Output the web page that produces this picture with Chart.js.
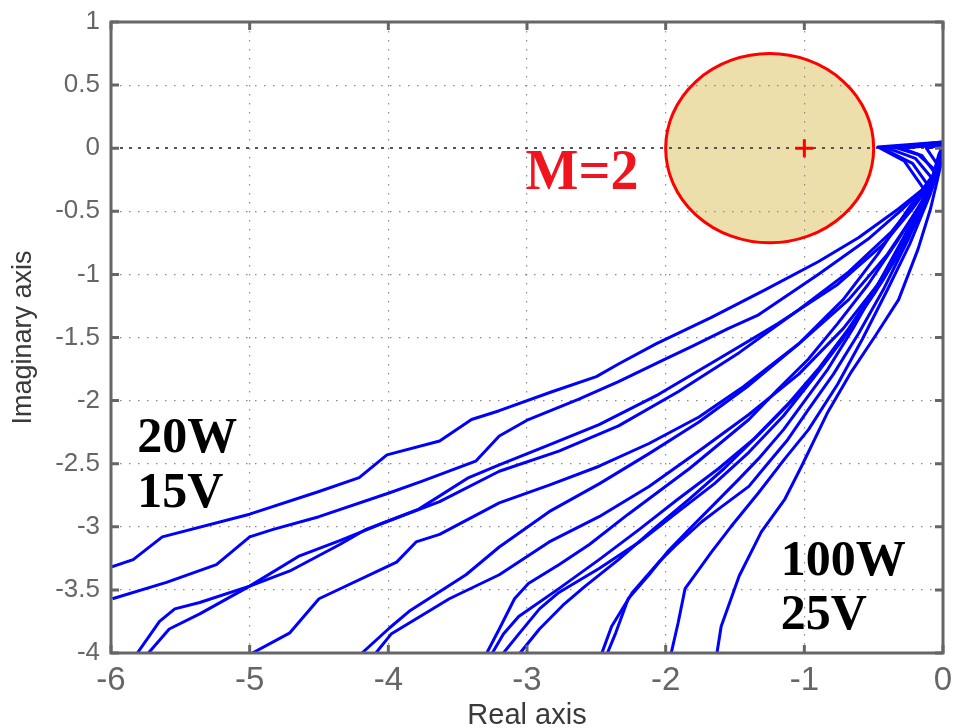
<!DOCTYPE html>
<html>
<head>
<meta charset="utf-8">
<script src="https://cdn.jsdelivr.net/npm/chart.js@4.4.0/dist/chart.umd.min.js"></script>
<style>
html, body { margin: 0; padding: 0; background: #fff; }
#wrap { width: 955px; height: 728px; }
</style>
</head>
<body>
<div id="wrap"><canvas id="nyquist" width="955" height="728"></canvas></div>
<script>
// axis ticks
const xTicks = [-6, -5, -4, -3, -2, -1, 0];
const yTicks = [1, 0.5, 0, -0.5, -1, -1.5, -2, -2.5, -3, -3.5, -4];

// M=2 circle and its centre mark
const circleCenter = [-1.25, 0];
const circleRadius = 0.75;
const centerMark = [-1, 0];

// Nyquist curves (outer end -> origin)
const curve01 = [[-6.0,-3.32],[-5.84,-3.26],[-5.63,-3.08],[-5.0,-2.9],[-4.5,-2.72],[-4.21,-2.61],[-4.01,-2.43],[-3.63,-2.32],[-3.4,-2.15],[-3.2,-2.08],[-2.82,-1.93],[-2.5,-1.81],[-2.34,-1.71],[-2.07,-1.55],[-1.67,-1.34],[-1.28,-1.12],[-0.9,-0.9],[-0.61,-0.71],[-0.32,-0.48],[-0.14,-0.32],[-0.28,-0.1],[-0.47,0.01],[0,0.05]];
const curve02 = [[-5.99,-3.57],[-5.6,-3.44],[-5.24,-3.3],[-5.0,-3.08],[-4.83,-3.02],[-4.5,-2.92],[-3.99,-2.73],[-3.76,-2.64],[-3.37,-2.48],[-3.2,-2.28],[-2.99,-2.15],[-2.63,-1.99],[-2.34,-1.85],[-2.0,-1.67],[-1.81,-1.57],[-1.55,-1.43],[-1.33,-1.32],[-0.9,-1.0],[-0.54,-0.72],[-0.29,-0.48],[-0.11,-0.29],[-0.22,-0.12],[-0.44,0.0],[0,0.04]];
const curve03 = [[-5.81,-4.0],[-5.65,-3.75],[-5.54,-3.65],[-5.36,-3.6],[-5.0,-3.47],[-4.71,-3.35],[-4.35,-3.14],[-4.16,-3.02],[-3.78,-2.86],[-3.42,-2.61],[-3.2,-2.51],[-2.84,-2.35],[-2.48,-2.19],[-2.05,-1.95],[-1.62,-1.67],[-1.19,-1.39],[-0.76,-1.08],[-0.43,-0.76],[-0.22,-0.48],[-0.07,-0.25],[-0.2,-0.08],[-0.4,0.0],[0,0.03]];
const curve04 = [[-5.73,-4.0],[-5.58,-3.81],[-5.36,-3.69],[-5.0,-3.47],[-4.64,-3.23],[-4.35,-3.11],[-4.06,-2.98],[-3.63,-2.8],[-3.2,-2.56],[-2.77,-2.4],[-2.34,-2.2],[-1.91,-1.93],[-1.47,-1.62],[-1.04,-1.28],[-0.68,-0.98],[-0.37,-0.66],[-0.18,-0.4],[-0.05,-0.18],[-0.18,-0.05],[-0.36,0.01],[0,0.05]];
const curve05 = [[-4.98,-4.0],[-4.71,-3.84],[-4.5,-3.57],[-3.94,-3.28],[-3.8,-3.12],[-3.63,-3.06],[-3.2,-2.81],[-2.84,-2.67],[-2.48,-2.52],[-2.12,-2.34],[-1.76,-2.13],[-1.44,-1.89],[-1.04,-1.55],[-0.68,-1.2],[-0.4,-0.84],[-0.18,-0.48],[-0.05,-0.21],[-0.15,-0.06],[-0.3,0.0],[0,0.03]];
const curve06 = [[-4.19,-4.0],[-3.99,-3.8],[-3.85,-3.67],[-3.44,-3.38],[-3.2,-3.16],[-2.84,-2.88],[-2.48,-2.66],[-2.12,-2.42],[-1.76,-2.17],[-1.4,-1.88],[-1.04,-1.55],[-0.72,-1.2],[-0.47,-0.84],[-0.25,-0.48],[-0.07,-0.21],[-0.03,-0.05],[0,0.02]];
const curve07 = [[-4.09,-4.0],[-3.98,-3.85],[-3.56,-3.57],[-3.2,-3.38],[-2.84,-3.12],[-2.48,-2.92],[-2.12,-2.68],[-1.76,-2.4],[-1.4,-2.11],[-1.04,-1.79],[-0.72,-1.43],[-0.47,-1.08],[-0.25,-0.68],[-0.09,-0.32],[-0.02,-0.08],[0,0.02]];
const curve08 = [[-3.29,-4.0],[-3.2,-3.81],[-3.09,-3.57],[-2.99,-3.45],[-2.77,-3.3],[-2.55,-3.14],[-2.27,-2.9],[-2.05,-2.72],[-1.83,-2.54],[-1.62,-2.35],[-1.4,-2.15],[-1.19,-1.91],[-0.97,-1.67],[-0.76,-1.39],[-0.54,-1.08],[-0.32,-0.72],[-0.14,-0.4],[-0.04,-0.13],[-0.12,0.0],[0,0.03]];
const curve09 = [[-3.25,-4.0],[-3.17,-3.85],[-3.06,-3.71],[-2.77,-3.49],[-2.48,-3.26],[-2.19,-3.02],[-1.91,-2.78],[-1.62,-2.54],[-1.37,-2.31],[-1.12,-2.03],[-0.9,-1.75],[-0.68,-1.43],[-0.47,-1.08],[-0.29,-0.76],[-0.12,-0.4],[-0.02,-0.09],[0,0.02]];
const curve10 = [[-3.17,-4.0],[-3.06,-3.85],[-2.91,-3.65],[-2.77,-3.52],[-2.48,-3.33],[-2.19,-3.12],[-1.91,-2.88],[-1.65,-2.66],[-1.4,-2.41],[-1.15,-2.12],[-0.94,-1.83],[-0.72,-1.51],[-0.5,-1.16],[-0.32,-0.84],[-0.14,-0.48],[-0.02,-0.13],[0,0.01]];
const curve11 = [[-3.05,-4.0],[-2.91,-3.81],[-2.73,-3.61],[-2.58,-3.47],[-2.34,-3.26],[-2.09,-3.02],[-1.83,-2.78],[-1.58,-2.54],[-1.33,-2.27],[-1.08,-1.99],[-0.86,-1.71],[-0.65,-1.39],[-0.43,-1.04],[-0.25,-0.68],[-0.09,-0.32],[-0.01,-0.06],[0,0.02]];
const curve12 = [[-2.46,-4.0],[-2.39,-3.79],[-2.24,-3.52],[-2.05,-3.28],[-1.93,-3.15],[-1.74,-2.96],[-1.62,-2.86],[-1.4,-2.68],[-1.28,-2.52],[-1.12,-2.31],[-0.97,-2.07],[-0.79,-1.79],[-0.61,-1.47],[-0.43,-1.12],[-0.25,-0.72],[-0.11,-0.36],[-0.01,-0.05],[0,0.02]];
const curve13 = [[-2.42,-4.0],[-2.36,-3.84],[-2.27,-3.57],[-2.12,-3.38],[-1.98,-3.19],[-1.83,-3.02],[-1.65,-2.82],[-1.47,-2.62],[-1.33,-2.46],[-1.15,-2.23],[-0.99,-1.99],[-0.83,-1.75],[-0.65,-1.43],[-0.47,-1.08],[-0.29,-0.72],[-0.12,-0.36],[-0.01,-0.06],[0,0.01]];
const curve14 = [[-1.96,-4.0],[-1.91,-3.76],[-1.86,-3.49],[-1.67,-3.2],[-1.53,-3.0],[-1.33,-2.73],[-1.14,-2.46],[-0.97,-2.23],[-0.76,-1.87],[-0.58,-1.51],[-0.4,-1.12],[-0.24,-0.76],[-0.09,-0.36],[-0.01,-0.09],[0,0.02]];
const curve15 = [[-1.63,-4.0],[-1.6,-3.79],[-1.47,-3.39],[-1.31,-3.04],[-1.14,-2.78],[-1.02,-2.52],[-0.83,-2.09],[-0.66,-1.77],[-0.49,-1.49],[-0.32,-1.2],[-0.18,-0.8],[-0.09,-0.48],[-0.04,-0.25],[0,-0.05],[0,0.02]];

const curves = [curve01, curve02, curve03, curve04, curve05, curve06, curve07, curve08,
                curve09, curve10, curve11, curve12, curve13, curve14, curve15];

// text put on the plot, placed in data units
const notes = [
  { text: 'M=2',  x: -3.01, y: -0.32, color: '#f0141e', size: 56 },
  { text: '20W',  x: -5.81, y: -2.41, color: '#000', size: 50 },
  { text: '15V',  x: -5.81, y: -2.84, color: '#000', size: 50 },
  { text: '100W', x: -1.17, y: -3.38, color: '#000', size: 50 },
  { text: '25V',  x: -1.17, y: -3.81, color: '#000', size: 50 }
];

const AXIS = '#666';

function circleBox(x, y) {
  const cx = x.getPixelForValue(circleCenter[0]);
  const cy = y.getPixelForValue(circleCenter[1]);
  const rx = Math.abs(x.getPixelForValue(circleCenter[0] + circleRadius) - cx);
  const ry = Math.abs(y.getPixelForValue(circleCenter[1] + circleRadius) - cy);
  return { cx, cy, rx, ry };
}

const decor = {
  id: 'decor',
  beforeDraw(chart) {
    const { ctx, scales: { x, y } } = chart;
    const c = circleBox(x, y);
    ctx.save();
    ctx.fillStyle = '#fff';
    ctx.fillRect(0, 0, chart.width, chart.height);
    ctx.beginPath();
    ctx.ellipse(c.cx, c.cy, c.rx, c.ry, 0, 0, Math.PI * 2);
    ctx.fillStyle = '#eddfab';
    ctx.fill();
    ctx.restore();
  },
  beforeDatasetsDraw(chart) {
    const { ctx, scales: { x, y } } = chart;
    const c = circleBox(x, y);
    ctx.save();
    ctx.beginPath();
    ctx.ellipse(c.cx, c.cy, c.rx, c.ry, 0, 0, Math.PI * 2);
    ctx.strokeStyle = '#ff0000';
    ctx.lineWidth = 3;
    ctx.stroke();
    ctx.restore();
  },
  afterDraw(chart) {
    const { ctx, chartArea: a, scales: { x, y } } = chart;
    ctx.save();
    // box
    ctx.strokeStyle = AXIS;
    ctx.lineWidth = 3;
    ctx.strokeRect(a.left, a.top, a.right - a.left, a.bottom - a.top);
    // inward ticks
    const tl = 8;
    ctx.beginPath();
    xTicks.forEach(v => {
      const px = x.getPixelForValue(v);
      ctx.moveTo(px, a.bottom); ctx.lineTo(px, a.bottom - tl);
      ctx.moveTo(px, a.top); ctx.lineTo(px, a.top + tl);
    });
    yTicks.forEach(v => {
      const py = y.getPixelForValue(v);
      ctx.moveTo(a.left, py); ctx.lineTo(a.left + tl, py);
      ctx.moveTo(a.right, py); ctx.lineTo(a.right - tl, py);
    });
    ctx.stroke();

    // axis titles
    ctx.fillStyle = '#3a3a3a';
    ctx.font = '29px "Liberation Sans", Arial, sans-serif';
    ctx.textAlign = 'center';
    ctx.textBaseline = 'middle';
    ctx.fillText('Real axis', (a.left + a.right) / 2, 716);
    ctx.translate(24, (a.top + a.bottom) / 2);
    ctx.rotate(-Math.PI / 2);
    ctx.font = '27px "Liberation Sans", Arial, sans-serif';
    ctx.fillText('Imaginary axis', 0, 0);
    ctx.restore();

    // notes
    ctx.save();
    ctx.textAlign = 'left';
    ctx.textBaseline = 'alphabetic';
    notes.forEach(n => {
      ctx.fillStyle = n.color;
      ctx.font = 'bold ' + n.size + 'px "Liberation Serif", "Times New Roman", serif';
      ctx.fillText(n.text, x.getPixelForValue(n.x), y.getPixelForValue(n.y));
    });
    ctx.restore();
  }
};

const datasets = curves.map(c => ({
  data: c.map(([px, py]) => ({ x: px, y: py })),
  showLine: true,
  borderColor: '#0000ff',
  borderWidth: 3,
  borderJoinStyle: 'round',
  pointRadius: 0,
  tension: 0,
  order: 2
}));

datasets.push({
  data: [{ x: centerMark[0], y: centerMark[1] }],
  pointStyle: 'cross',
  pointRadius: 9,
  borderColor: '#ff0000',
  borderWidth: 3,
  showLine: false,
  order: 1
});

new Chart(document.getElementById('nyquist'), {
  type: 'scatter',
  data: { datasets },
  options: {
    responsive: false,
    animation: false,
    devicePixelRatio: 1,
    layout: { padding: { top: 22, right: 10, left: 0, bottom: 0 } },
    plugins: { legend: { display: false }, tooltip: { enabled: false } },
    scales: {
      x: {
        type: 'linear',
        min: -6, max: 0,
        afterBuildTicks: s => { s.ticks = xTicks.map(v => ({ value: v })); },
        afterFit: s => { s.height = 75; s.paddingLeft = 0; s.paddingRight = 0; },
        ticks: {
          color: '#666',
          padding: 8,
          maxRotation: 0,
          autoSkip: false,
          callback: v => String(v),
          font: { family: '"Liberation Sans", Arial, sans-serif', size: 33 }
        },
        grid: {
          drawTicks: false,
          lineWidth: 1.2,
          color: ctx => (ctx.tick && ctx.tick.value === 0) ? 'rgba(0,0,0,0)' : '#8a8a8a'
        },
        border: { display: false, dash: [1.5, 7.5] }
      },
      y: {
        type: 'linear',
        min: -4, max: 1,
        afterBuildTicks: s => { s.ticks = yTicks.map(v => ({ value: v })); },
        afterFit: s => { s.width = 111; s.paddingTop = 0; s.paddingBottom = 0; },
        ticks: {
          color: '#666',
          padding: 11,
          autoSkip: false,
          callback: v => String(v),
          font: { family: '"Liberation Sans", Arial, sans-serif', size: 26 }
        },
        grid: {
          drawTicks: false,
          lineWidth: ctx => (ctx.tick && ctx.tick.value === 0) ? 2 : 1.2,
          color: ctx => (ctx.tick && ctx.tick.value === 0) ? '#555' : '#8a8a8a'
        },
        border: {
          display: false,
          dash: ctx => (ctx.tick && ctx.tick.value === 0) ? [3, 6] : [1.5, 7.5]
        }
      }
    }
  },
  plugins: [decor]
});
</script>
</body>
</html>
